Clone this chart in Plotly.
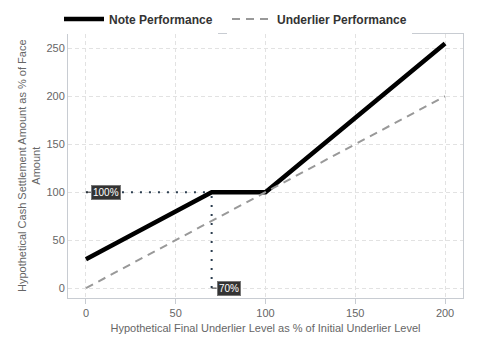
import plotly.graph_objects as go

underlier_x = [0, 70, 100, 200]
note_y = [30, 100, 100, 255]
underlier_y = [0, 70, 100, 200]
barrier_x = 70
barrier_y = 100
x_ticks = [0, 50, 100, 150, 200]
y_ticks = [0, 50, 100, 150, 200, 250]

font = "Liberation Sans, Arial, sans-serif"
W, H = 472, 352  # page body has an 8px offset in the viewer
fig = go.Figure()
fig.add_trace(go.Scatter(x=[0, barrier_x], y=[barrier_y, barrier_y], mode="lines",
                         line=dict(color="#2c3e50", width=2, dash="2px,7px"),
                         showlegend=False, hoverinfo="skip"))
fig.add_trace(go.Scatter(x=[barrier_x, barrier_x], y=[0, barrier_y], mode="lines",
                         line=dict(color="#2c3e50", width=2, dash="2px,7px"),
                         showlegend=False, hoverinfo="skip"))
fig.add_trace(go.Scatter(x=underlier_x, y=note_y, mode="lines", name="Note Performance",
                         line=dict(color="black", width=4.5), legend="legend"))
fig.add_trace(go.Scatter(x=underlier_x, y=underlier_y, mode="lines", name="Underlier Performance",
                         line=dict(color="#999999", width=2, dash="8px,6px"), legend="legend2"))

for (ax_x, ax_y, txt) in [(0, barrier_y, "100%"), (barrier_x, 0, "70%")]:
    fig.add_annotation(x=ax_x, y=ax_y, text=txt, showarrow=True, arrowhead=0,
                       arrowwidth=1, arrowcolor="#333333", ax=5, ay=0,
                       xanchor="left", yanchor="middle",
                       font=dict(color="white", size=10, family=font),
                       bgcolor="#333333", bordercolor="#777777", borderwidth=1, borderpad=1)

axis_common = dict(showgrid=True, gridcolor="#e2e2e2", griddash="4px,3px", gridwidth=1,
                   zeroline=False, showline=True, linecolor="#c8ccd2", linewidth=1, mirror=True,
                   automargin=False,
                   tickfont=dict(color="#666666", size=11, family=font),
                   title_font=dict(color="#666666", size=11, family=font))
fig.update_xaxes(range=[-10, 210], tickvals=x_ticks, ticks="outside", ticklen=5,
                 tickcolor="#c8ccd2",
                 title_text="Hypothetical Final Underlier Level as % of Initial Underlier Level",
                 title_standoff=6, **axis_common)
fig.update_yaxes(range=[-10.3, 265.4], tickvals=y_ticks, ticks="",
                 title_text="Hypothetical Cash Settlement Amount as % of Face<br>Amount",
                 title_standoff=3, **axis_common)
legend_common = dict(orientation="h", xref="container", xanchor="left",
                     y=1 - 11 / H, yref="container", yanchor="middle",
                     font=dict(size=12, color="#333333", family=font, weight="bold"),
                     itemwidth=40)
fig.update_layout(width=W, height=H, margin=dict(l=60, r=17, t=22, b=62),
                  plot_bgcolor="white", paper_bgcolor="white",
                  font=dict(family=font, color="#333333"),
                  legend=dict(x=51 / W, **legend_common),
                  legend2=dict(x=219 / W, **legend_common))
fig.write_html("out.html")
